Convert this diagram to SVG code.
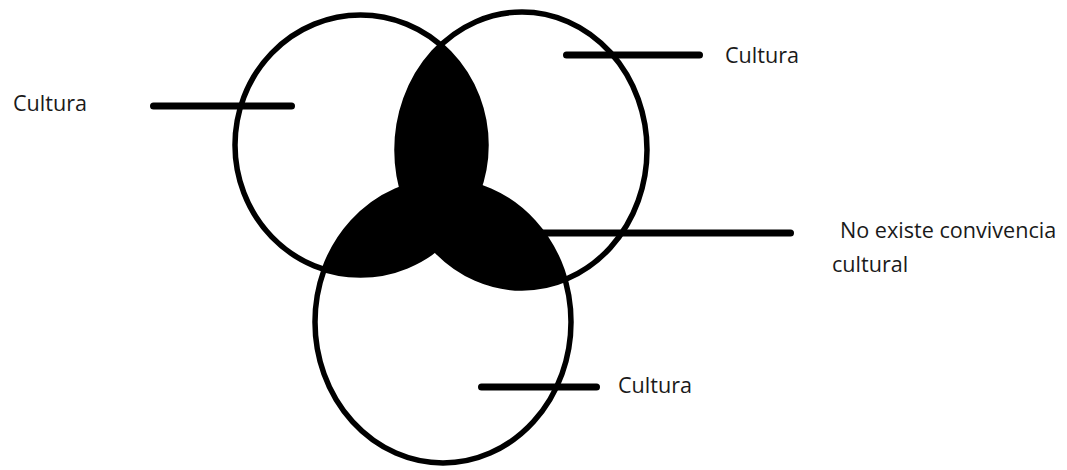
<svg xmlns="http://www.w3.org/2000/svg" width="1067" height="470" viewBox="0 0 1067 470">
  <style>
    .ring { fill: none; stroke: #000; stroke-width: 5.5; }
    .shade { fill: #000; stroke: none; }
    .lead { stroke: #000; stroke-width: 7; stroke-linecap: round; fill: none; }
    .lbl { font-family: "Open Sans", "Noto Sans", "Liberation Sans", sans-serif; font-size: 21.6px; fill: #1a1a1a; }
  </style>
  <defs>
    <clipPath id="clipL"><ellipse cx="360.5" cy="145" rx="125.5" ry="130"/></clipPath>
    <clipPath id="clipR"><ellipse cx="522" cy="150" rx="125" ry="138"/></clipPath>
  </defs>
  <rect x="0" y="0" width="1067" height="470" fill="#fff"/>

  <g id="overlap">
    <ellipse class="shade" cx="522" cy="150" rx="125" ry="138" clip-path="url(#clipL)"/>
    <ellipse class="shade" cx="443" cy="322" rx="128" ry="141" clip-path="url(#clipL)"/>
    <ellipse class="shade" cx="443" cy="322" rx="128" ry="141" clip-path="url(#clipR)"/>
  </g>

  <g id="circle-left">
    <ellipse class="ring" cx="360.5" cy="145" rx="125.5" ry="130"/>
  </g>
  <g id="circle-right">
    <ellipse class="ring" cx="522" cy="150" rx="125" ry="138"/>
  </g>
  <g id="circle-bottom">
    <ellipse class="ring" cx="443" cy="322" rx="128" ry="141"/>
  </g>

  <g id="connectors">
    <line class="lead" x1="153.5" y1="106" x2="291.5" y2="106"/>
    <line class="lead" x1="566.5" y1="55" x2="699.5" y2="55"/>
    <line class="lead" x1="535" y1="233" x2="790.5" y2="233"/>
    <line class="lead" x1="481.5" y1="387" x2="596.5" y2="387"/>
  </g>

  <g id="label-left">
    <text class="lbl" x="13" y="111">Cultura</text>
  </g>
  <g id="label-top-right">
    <text class="lbl" x="725" y="63">Cultura</text>
  </g>
  <g id="label-bottom">
    <text class="lbl" x="618" y="393">Cultura</text>
  </g>
  <g id="label-overlap">
    <text class="lbl" x="840" y="238">No existe convivencia</text>
    <text class="lbl" x="832" y="271.5">cultural</text>
  </g>
</svg>
